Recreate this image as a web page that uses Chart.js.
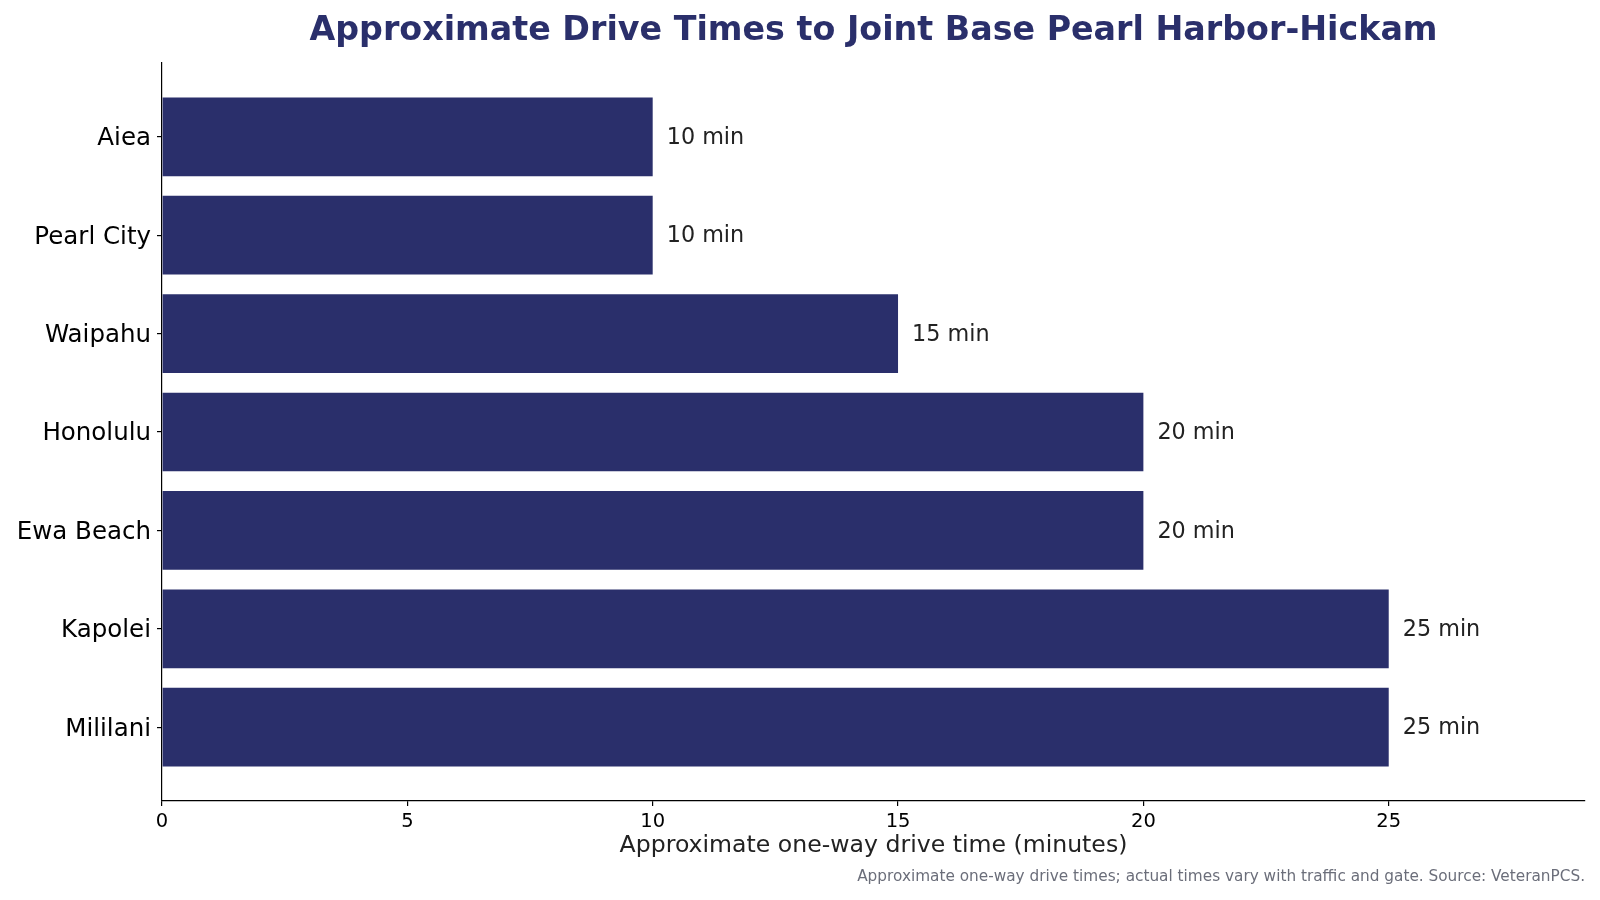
<!DOCTYPE html>
<html>
<head>
<meta charset="utf-8">
<script src="https://cdn.jsdelivr.net/npm/chart.js@4/dist/chart.umd.min.js"></script>
<style>
    html, body { margin: 0; padding: 0; background: #fff; }
    #wrap { width: 1600px; height: 900px; }
</style>
</head>
<body>
<div id="wrap"><canvas id="drive_chart" width="1600" height="900"></canvas></div>
<script>
//Chart data, top bar first
const towns = ['Aiea', 'Pearl City', 'Waipahu', 'Honolulu', 'Ewa Beach', 'Kapolei', 'Mililani'];
const driveMinutes = [10, 10, 15, 20, 20, 25, 25];
const xTicks = [0, 5, 10, 15, 20, 25];

const titleText = 'Approximate Drive Times to Joint Base Pearl Harbor-Hickam';
const xTitleText = 'Approximate one-way drive time (minutes)';
const noteText = 'Approximate one-way drive times; actual times vary with traffic and gate. Source: VeteranPCS.';

const navy = '#2a2f6b';
const font = '"DejaVu Sans", Verdana, sans-serif';

//Draws the title, axis title, footnote and bar value labels
const textPlugin = {
    id: 'textPlugin',
    afterDraw: (chart) => {
        const ctx = chart.ctx;
        const area = chart.chartArea;
        const midX = (area.left + area.right) / 2;
        ctx.save();
        ctx.textBaseline = 'middle';

        ctx.textAlign = 'center';
        ctx.fillStyle = navy;
        ctx.font = 'bold 33.3px ' + font;
        ctx.fillText(titleText, midX, 31);

        ctx.fillStyle = '#222222';
        ctx.font = '23.6px ' + font;
        ctx.fillText(xTitleText, midX, 846);

        ctx.textAlign = 'right';
        ctx.fillStyle = '#6b6e7a';
        ctx.font = '15.3px ' + font;
        ctx.fillText(noteText, area.right, 877);

        //Value labels at the end of every bar
        ctx.textAlign = 'left';
        ctx.fillStyle = '#222222';
        ctx.font = '22.3px ' + font;
        chart.getDatasetMeta(0).data.forEach((bar, i) => {
            ctx.fillText(driveMinutes[i] + ' min', bar.x + 14, bar.y + 1.5);
        });
        ctx.restore();
    }
};

new Chart('drive_chart', {
    type: 'bar',
    data: {
        datasets: [{
            data: driveMinutes.map((m, i) => ({x: m, y: i})),
            backgroundColor: navy,
            borderWidth: 0,
            barPercentage: 0.8,
            categoryPercentage: 1.0
        }]
    },
    options: {
        indexAxis: 'y',
        responsive: false,
        animation: false,
        layout: {padding: {top: 63, right: 15, bottom: 0, left: 0}},
        plugins: {
            legend: {display: false},
            tooltip: {enabled: false}
        },
        scales: {
            x: {
                type: 'linear',
                min: 0,
                max: 29,
                afterFit: (scale) => { scale.height = 99; },
                afterBuildTicks: (scale) => { scale.ticks = xTicks.map(v => ({value: v})); },
                border: {display: true, color: '#000', width: 1.2},
                grid: {display: true, drawOnChartArea: false, drawTicks: true, tickLength: 5, color: '#000', lineWidth: 1.2},
                ticks: {
                    color: '#000',
                    padding: 4,
                    maxRotation: 0,
                    font: {family: font, size: 19.5}
                }
            },
            y: {
                type: 'linear',
                reverse: true,
                offset: false,
                min: -0.75,
                max: 6.75,
                afterFit: (scale) => { scale.width = 162; },
                afterBuildTicks: (scale) => { scale.ticks = towns.map((t, i) => ({value: i})); },
                border: {display: true, color: '#000', width: 1.2},
                grid: {display: true, offset: false, drawOnChartArea: false, drawTicks: true, tickLength: 5, color: '#000', lineWidth: 1.2},
                ticks: {
                    color: '#000',
                    padding: 6,
                    labelOffset: 2,
                    font: {family: font, size: 24.5},
                    callback: (value) => towns[value] !== undefined ? towns[value] : ''
                }
            }
        }
    },
    plugins: [textPlugin]
});
</script>
</body>
</html>
